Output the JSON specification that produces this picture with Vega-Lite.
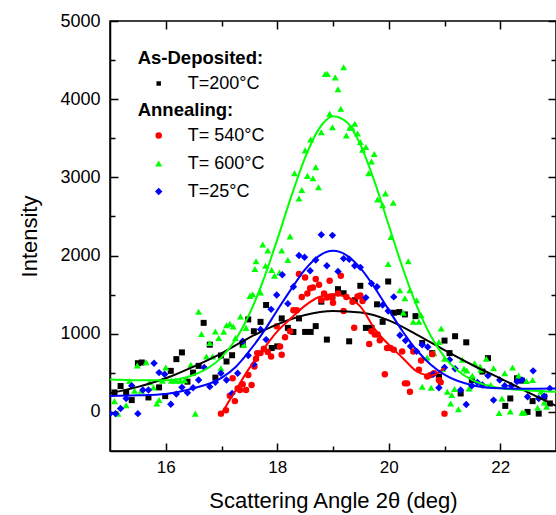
{
"$schema": "https://vega.github.io/schema/vega-lite/v6.json",
"width": 446, "height": 430,
"autosize": {"type": "none"},
"padding": {"left": 110, "top": 21, "right": 0, "bottom": 64},
"background": "white",
"config": {
 "font": "Liberation Sans",
 "view": {"stroke": "black", "strokeWidth": 1.5},
 "axis": {"grid": false, "labelFont": "Liberation Sans", "titleFont": "Liberation Sans", "labelColor": "black", "titleColor": "black", "domainColor": "black", "domainWidth": 1.5, "tickColor": "black", "tickWidth": 1.5, "titleFontWeight": "normal"},
 "legend": {"labelFont": "Liberation Sans", "titleFont": "Liberation Sans", "labelColor": "black", "titleColor": "black"}
},
"datasets": {
"pts": [
{"s":"T=200°C","x":15.08,"y":249},{"s":"T=200°C","x":15.19,"y":331},{"s":"T=200°C","x":15.29,"y":245},{"s":"T=200°C","x":15.39,"y":151},{"s":"T=200°C","x":15.5,"y":623},{"s":"T=200°C","x":15.57,"y":632},{"s":"T=200°C","x":15.69,"y":185},{"s":"T=200°C","x":15.88,"y":314},{"s":"T=200°C","x":15.99,"y":202},{"s":"T=200°C","x":16.09,"y":525},{"s":"T=200°C","x":16.19,"y":675},{"s":"T=200°C","x":16.29,"y":761},{"s":"T=200°C","x":16.39,"y":387},{"s":"T=200°C","x":16.49,"y":503},{"s":"T=200°C","x":16.59,"y":589},{"s":"T=200°C","x":16.68,"y":1139},{"s":"T=200°C","x":16.79,"y":860},{"s":"T=200°C","x":16.89,"y":439},{"s":"T=200°C","x":16.99,"y":722},{"s":"T=200°C","x":17.09,"y":645},{"s":"T=200°C","x":17.19,"y":725},{"s":"T=200°C","x":17.38,"y":860},{"s":"T=200°C","x":17.48,"y":1183},{"s":"T=200°C","x":17.58,"y":1032},{"s":"T=200°C","x":17.7,"y":1152},{"s":"T=200°C","x":17.8,"y":1367},{"s":"T=200°C","x":17.9,"y":817},{"s":"T=200°C","x":18.0,"y":838},{"s":"T=200°C","x":18.08,"y":1196},{"s":"T=200°C","x":18.19,"y":1075},{"s":"T=200°C","x":18.29,"y":1023},{"s":"T=200°C","x":18.39,"y":1196},{"s":"T=200°C","x":18.5,"y":1023},{"s":"T=200°C","x":18.6,"y":1023},{"s":"T=200°C","x":18.69,"y":1097},{"s":"T=200°C","x":18.79,"y":1410},{"s":"T=200°C","x":18.89,"y":925},{"s":"T=200°C","x":18.99,"y":1475},{"s":"T=200°C","x":19.09,"y":1570},{"s":"T=200°C","x":19.19,"y":1518},{"s":"T=200°C","x":19.29,"y":903},{"s":"T=200°C","x":19.39,"y":1428},{"s":"T=200°C","x":19.49,"y":1613},{"s":"T=200°C","x":19.59,"y":1075},{"s":"T=200°C","x":19.69,"y":1075},{"s":"T=200°C","x":19.79,"y":1376},{"s":"T=200°C","x":19.89,"y":1152},{"s":"T=200°C","x":19.99,"y":1668},{"s":"T=200°C","x":20.09,"y":1268},{"s":"T=200°C","x":20.19,"y":1277},{"s":"T=200°C","x":20.29,"y":1247},{"s":"T=200°C","x":20.48,"y":1225},{"s":"T=200°C","x":20.6,"y":881},{"s":"T=200°C","x":20.78,"y":752},{"s":"T=200°C","x":20.9,"y":452},{"s":"T=200°C","x":21.0,"y":912},{"s":"T=200°C","x":21.09,"y":752},{"s":"T=200°C","x":21.19,"y":968},{"s":"T=200°C","x":21.29,"y":236},{"s":"T=200°C","x":21.39,"y":890},{"s":"T=200°C","x":21.49,"y":409},{"s":"T=200°C","x":21.68,"y":516},{"s":"T=200°C","x":21.78,"y":688},{"s":"T=200°C","x":22.09,"y":77},{"s":"T=200°C","x":22.18,"y":172},{"s":"T=200°C","x":22.3,"y":430},{"s":"T=200°C","x":22.39,"y":400},{"s":"T=200°C","x":22.49,"y":0},{"s":"T=200°C","x":22.58,"y":138},{"s":"T=200°C","x":22.69,"y":-22},{"s":"T=200°C","x":22.79,"y":194},{"s":"T=200°C","x":22.89,"y":108},
{"s":"T= 600°C","x":15.08,"y":138},{"s":"T= 600°C","x":15.14,"y":-22},{"s":"T= 600°C","x":15.29,"y":86},{"s":"T= 600°C","x":15.35,"y":396},{"s":"T= 600°C","x":15.44,"y":271},{"s":"T= 600°C","x":15.49,"y":593},{"s":"T= 600°C","x":15.56,"y":271},{"s":"T= 600°C","x":15.65,"y":636},{"s":"T= 600°C","x":15.71,"y":378},{"s":"T= 600°C","x":15.78,"y":314},{"s":"T= 600°C","x":15.84,"y":107},{"s":"T= 600°C","x":15.88,"y":151},{"s":"T= 600°C","x":15.94,"y":400},{"s":"T= 600°C","x":16.0,"y":568},{"s":"T= 600°C","x":16.1,"y":400},{"s":"T= 600°C","x":16.18,"y":400},{"s":"T= 600°C","x":16.26,"y":400},{"s":"T= 600°C","x":16.34,"y":404},{"s":"T= 600°C","x":16.45,"y":602},{"s":"T= 600°C","x":16.53,"y":-22},{"s":"T= 600°C","x":16.59,"y":1281},{"s":"T= 600°C","x":16.64,"y":997},{"s":"T= 600°C","x":16.73,"y":710},{"s":"T= 600°C","x":16.79,"y":881},{"s":"T= 600°C","x":16.84,"y":710},{"s":"T= 600°C","x":16.89,"y":1028},{"s":"T= 600°C","x":16.95,"y":946},{"s":"T= 600°C","x":16.99,"y":559},{"s":"T= 600°C","x":17.04,"y":1024},{"s":"T= 600°C","x":17.09,"y":1109},{"s":"T= 600°C","x":17.15,"y":1126},{"s":"T= 600°C","x":17.21,"y":1092},{"s":"T= 600°C","x":17.25,"y":946},{"s":"T= 600°C","x":17.34,"y":1221},{"s":"T= 600°C","x":17.4,"y":860},{"s":"T= 600°C","x":17.44,"y":1075},{"s":"T= 600°C","x":17.51,"y":1484},{"s":"T= 600°C","x":17.56,"y":1505},{"s":"T= 600°C","x":17.6,"y":1828},{"s":"T= 600°C","x":17.62,"y":1926},{"s":"T= 600°C","x":17.7,"y":1526},{"s":"T= 600°C","x":17.74,"y":2141},{"s":"T= 600°C","x":17.79,"y":1870},{"s":"T= 600°C","x":17.83,"y":2064},{"s":"T= 600°C","x":17.9,"y":1815},{"s":"T= 600°C","x":17.95,"y":1741},{"s":"T= 600°C","x":18.04,"y":1784},{"s":"T= 600°C","x":18.08,"y":2064},{"s":"T= 600°C","x":18.19,"y":1944},{"s":"T= 600°C","x":18.23,"y":2245},{"s":"T= 600°C","x":18.31,"y":3053},{"s":"T= 600°C","x":18.39,"y":2731},{"s":"T= 600°C","x":18.44,"y":2838},{"s":"T= 600°C","x":18.5,"y":3345},{"s":"T= 600°C","x":18.54,"y":3019},{"s":"T= 600°C","x":18.6,"y":3483},{"s":"T= 600°C","x":18.64,"y":2989},{"s":"T= 600°C","x":18.69,"y":3131},{"s":"T= 600°C","x":18.74,"y":2873},{"s":"T= 600°C","x":18.79,"y":3577},{"s":"T= 600°C","x":18.86,"y":4322},{"s":"T= 600°C","x":18.9,"y":4322},{"s":"T= 600°C","x":18.94,"y":3814},{"s":"T= 600°C","x":18.99,"y":3642},{"s":"T= 600°C","x":19.04,"y":4279},{"s":"T= 600°C","x":19.09,"y":4128},{"s":"T= 600°C","x":19.14,"y":3879},{"s":"T= 600°C","x":19.19,"y":4408},{"s":"T= 600°C","x":19.24,"y":3535},{"s":"T= 600°C","x":19.3,"y":3634},{"s":"T= 600°C","x":19.34,"y":3634},{"s":"T= 600°C","x":19.39,"y":3685},{"s":"T= 600°C","x":19.44,"y":3560},{"s":"T= 600°C","x":19.49,"y":3453},{"s":"T= 600°C","x":19.53,"y":3354},{"s":"T= 600°C","x":19.59,"y":3389},{"s":"T= 600°C","x":19.64,"y":3053},{"s":"T= 600°C","x":19.69,"y":3203},{"s":"T= 600°C","x":19.74,"y":3300},{"s":"T= 600°C","x":19.8,"y":2718},{"s":"T= 600°C","x":19.89,"y":2645},{"s":"T= 600°C","x":19.94,"y":2795},{"s":"T= 600°C","x":19.99,"y":1892},{"s":"T= 600°C","x":20.04,"y":2236},{"s":"T= 600°C","x":20.08,"y":2674},{"s":"T= 600°C","x":20.2,"y":1557},{"s":"T= 600°C","x":20.26,"y":1268},{"s":"T= 600°C","x":20.29,"y":1453},{"s":"T= 600°C","x":20.35,"y":1926},{"s":"T= 600°C","x":20.38,"y":1557},{"s":"T= 600°C","x":20.44,"y":1152},{"s":"T= 600°C","x":20.5,"y":1428},{"s":"T= 600°C","x":20.54,"y":1152},{"s":"T= 600°C","x":20.58,"y":1238},{"s":"T= 600°C","x":20.6,"y":323},{"s":"T= 600°C","x":20.69,"y":697},{"s":"T= 600°C","x":20.76,"y":310},{"s":"T= 600°C","x":20.81,"y":752},{"s":"T= 600°C","x":20.9,"y":894},{"s":"T= 600°C","x":20.94,"y":1067},{"s":"T= 600°C","x":20.97,"y":551},{"s":"T= 600°C","x":21.0,"y":680},{"s":"T= 600°C","x":21.05,"y":258},{"s":"T= 600°C","x":21.11,"y":107},{"s":"T= 600°C","x":21.13,"y":215},{"s":"T= 600°C","x":21.18,"y":293},{"s":"T= 600°C","x":21.25,"y":35},{"s":"T= 600°C","x":21.32,"y":667},{"s":"T= 600°C","x":21.35,"y":551},{"s":"T= 600°C","x":21.4,"y":529},{"s":"T= 600°C","x":21.44,"y":301},{"s":"T= 600°C","x":21.5,"y":464},{"s":"T= 600°C","x":21.54,"y":623},{"s":"T= 600°C","x":21.64,"y":580},{"s":"T= 600°C","x":21.65,"y":538},{"s":"T= 600°C","x":21.75,"y":680},{"s":"T= 600°C","x":21.83,"y":344},{"s":"T= 600°C","x":21.88,"y":559},{"s":"T= 600°C","x":21.98,"y":-13},{"s":"T= 600°C","x":22.03,"y":172},{"s":"T= 600°C","x":22.08,"y":494},{"s":"T= 600°C","x":22.18,"y":4},{"s":"T= 600°C","x":22.22,"y":568},{"s":"T= 600°C","x":22.33,"y":464},{"s":"T= 600°C","x":22.39,"y":-9},{"s":"T= 600°C","x":22.43,"y":-9},{"s":"T= 600°C","x":22.47,"y":396},{"s":"T= 600°C","x":22.58,"y":409},{"s":"T= 600°C","x":22.67,"y":52},{"s":"T= 600°C","x":22.73,"y":258},{"s":"T= 600°C","x":22.79,"y":120},{"s":"T= 600°C","x":22.83,"y":65},
{"s":"T= 540°C","x":16.99,"y":-22},{"s":"T= 540°C","x":17.08,"y":22},{"s":"T= 540°C","x":17.15,"y":206},{"s":"T= 540°C","x":17.2,"y":430},{"s":"T= 540°C","x":17.24,"y":138},{"s":"T= 540°C","x":17.29,"y":301},{"s":"T= 540°C","x":17.33,"y":280},{"s":"T= 540°C","x":17.38,"y":353},{"s":"T= 540°C","x":17.44,"y":280},{"s":"T= 540°C","x":17.48,"y":473},{"s":"T= 540°C","x":17.54,"y":344},{"s":"T= 540°C","x":17.59,"y":580},{"s":"T= 540°C","x":17.62,"y":680},{"s":"T= 540°C","x":17.64,"y":752},{"s":"T= 540°C","x":17.7,"y":752},{"s":"T= 540°C","x":17.76,"y":808},{"s":"T= 540°C","x":17.83,"y":765},{"s":"T= 540°C","x":17.89,"y":710},{"s":"T= 540°C","x":17.99,"y":1097},{"s":"T= 540°C","x":18.05,"y":838},{"s":"T= 540°C","x":18.08,"y":731},{"s":"T= 540°C","x":18.14,"y":955},{"s":"T= 540°C","x":18.23,"y":1032},{"s":"T= 540°C","x":18.29,"y":1299},{"s":"T= 540°C","x":18.35,"y":1299},{"s":"T= 540°C","x":18.39,"y":1763},{"s":"T= 540°C","x":18.44,"y":1471},{"s":"T= 540°C","x":18.5,"y":1720},{"s":"T= 540°C","x":18.54,"y":1514},{"s":"T= 540°C","x":18.59,"y":1582},{"s":"T= 540°C","x":18.64,"y":1591},{"s":"T= 540°C","x":18.69,"y":1699},{"s":"T= 540°C","x":18.75,"y":1625},{"s":"T= 540°C","x":18.79,"y":1428},{"s":"T= 540°C","x":18.84,"y":1514},{"s":"T= 540°C","x":18.89,"y":1462},{"s":"T= 540°C","x":18.94,"y":1677},{"s":"T= 540°C","x":18.98,"y":1462},{"s":"T= 540°C","x":19.0,"y":1397},{"s":"T= 540°C","x":19.09,"y":1514},{"s":"T= 540°C","x":19.14,"y":1741},{"s":"T= 540°C","x":19.19,"y":1290},{"s":"T= 540°C","x":19.24,"y":1471},{"s":"T= 540°C","x":19.35,"y":1410},{"s":"T= 540°C","x":19.38,"y":1075},{"s":"T= 540°C","x":19.44,"y":1475},{"s":"T= 540°C","x":19.49,"y":1488},{"s":"T= 540°C","x":19.53,"y":1419},{"s":"T= 540°C","x":19.65,"y":868},{"s":"T= 540°C","x":19.69,"y":1032},{"s":"T= 540°C","x":19.75,"y":989},{"s":"T= 540°C","x":19.8,"y":989},{"s":"T= 540°C","x":19.84,"y":916},{"s":"T= 540°C","x":19.93,"y":481},{"s":"T= 540°C","x":19.97,"y":817},{"s":"T= 540°C","x":20.03,"y":817},{"s":"T= 540°C","x":20.09,"y":795},{"s":"T= 540°C","x":20.24,"y":774},{"s":"T= 540°C","x":20.29,"y":365},{"s":"T= 540°C","x":20.33,"y":365},{"s":"T= 540°C","x":20.38,"y":258},{"s":"T= 540°C","x":20.44,"y":774},{"s":"T= 540°C","x":20.54,"y":538},{"s":"T= 540°C","x":20.58,"y":658},{"s":"T= 540°C","x":20.69,"y":452},{"s":"T= 540°C","x":20.75,"y":473},{"s":"T= 540°C","x":20.78,"y":739},{"s":"T= 540°C","x":20.81,"y":495},{"s":"T= 540°C","x":20.9,"y":409},{"s":"T= 540°C","x":20.93,"y":378},{"s":"T= 540°C","x":21.0,"y":-22},
{"s":"T=25°C","x":15.0,"y":-22},{"s":"T=25°C","x":15.1,"y":-22},{"s":"T=25°C","x":15.19,"y":43},{"s":"T=25°C","x":15.29,"y":172},{"s":"T=25°C","x":15.39,"y":335},{"s":"T=25°C","x":15.5,"y":-22},{"s":"T=25°C","x":15.59,"y":280},{"s":"T=25°C","x":15.69,"y":280},{"s":"T=25°C","x":15.79,"y":623},{"s":"T=25°C","x":15.88,"y":503},{"s":"T=25°C","x":15.98,"y":482},{"s":"T=25°C","x":16.09,"y":99},{"s":"T=25°C","x":16.19,"y":228},{"s":"T=25°C","x":16.29,"y":314},{"s":"T=25°C","x":16.39,"y":245},{"s":"T=25°C","x":16.49,"y":310},{"s":"T=25°C","x":16.59,"y":409},{"s":"T=25°C","x":16.69,"y":568},{"s":"T=25°C","x":16.79,"y":323},{"s":"T=25°C","x":16.89,"y":378},{"s":"T=25°C","x":16.99,"y":494},{"s":"T=25°C","x":17.09,"y":409},{"s":"T=25°C","x":17.19,"y":236},{"s":"T=25°C","x":17.29,"y":494},{"s":"T=25°C","x":17.38,"y":903},{"s":"T=25°C","x":17.48,"y":722},{"s":"T=25°C","x":17.58,"y":610},{"s":"T=25°C","x":17.7,"y":1054},{"s":"T=25°C","x":17.8,"y":925},{"s":"T=25°C","x":17.89,"y":1312},{"s":"T=25°C","x":17.99,"y":1496},{"s":"T=25°C","x":18.09,"y":1754},{"s":"T=25°C","x":18.19,"y":1385},{"s":"T=25°C","x":18.29,"y":1600},{"s":"T=25°C","x":18.39,"y":2000},{"s":"T=25°C","x":18.49,"y":1978},{"s":"T=25°C","x":18.59,"y":1806},{"s":"T=25°C","x":18.69,"y":1944},{"s":"T=25°C","x":18.79,"y":2266},{"s":"T=25°C","x":18.89,"y":1870},{"s":"T=25°C","x":18.99,"y":2258},{"s":"T=25°C","x":19.09,"y":1797},{"s":"T=25°C","x":19.19,"y":1961},{"s":"T=25°C","x":19.29,"y":1952},{"s":"T=25°C","x":19.39,"y":1870},{"s":"T=25°C","x":19.49,"y":1849},{"s":"T=25°C","x":19.59,"y":1462},{"s":"T=25°C","x":19.69,"y":1642},{"s":"T=25°C","x":19.79,"y":1600},{"s":"T=25°C","x":19.89,"y":1367},{"s":"T=25°C","x":19.99,"y":1290},{"s":"T=25°C","x":20.09,"y":1471},{"s":"T=25°C","x":20.2,"y":980},{"s":"T=25°C","x":20.3,"y":912},{"s":"T=25°C","x":20.39,"y":839},{"s":"T=25°C","x":20.5,"y":774},{"s":"T=25°C","x":20.6,"y":860},{"s":"T=25°C","x":20.7,"y":830},{"s":"T=25°C","x":20.8,"y":481},{"s":"T=25°C","x":20.9,"y":310},{"s":"T=25°C","x":21.0,"y":568},{"s":"T=25°C","x":21.09,"y":667},{"s":"T=25°C","x":21.19,"y":551},{"s":"T=25°C","x":21.29,"y":280},{"s":"T=25°C","x":21.39,"y":95},{"s":"T=25°C","x":21.49,"y":335},{"s":"T=25°C","x":21.59,"y":378},{"s":"T=25°C","x":21.68,"y":344},{"s":"T=25°C","x":21.78,"y":464},{"s":"T=25°C","x":21.88,"y":151},{"s":"T=25°C","x":21.99,"y":409},{"s":"T=25°C","x":22.08,"y":335},{"s":"T=25°C","x":22.2,"y":335},{"s":"T=25°C","x":22.3,"y":387},{"s":"T=25°C","x":22.39,"y":409},{"s":"T=25°C","x":22.49,"y":194},{"s":"T=25°C","x":22.59,"y":525},{"s":"T=25°C","x":22.69,"y":172},{"s":"T=25°C","x":22.79,"y":200},{"s":"T=25°C","x":22.89,"y":301}
],
"fits": [
{"s":"T=200°C","x":15,"y":237},{"s":"T=200°C","x":15.5,"y":320},{"s":"T=200°C","x":16,"y":430},{"s":"T=200°C","x":16.5,"y":580},{"s":"T=200°C","x":17,"y":750},{"s":"T=200°C","x":17.5,"y":950},{"s":"T=200°C","x":18,"y":1120},{"s":"T=200°C","x":18.5,"y":1240},{"s":"T=200°C","x":19,"y":1290},{"s":"T=200°C","x":19.5,"y":1270},{"s":"T=200°C","x":20,"y":1170},{"s":"T=200°C","x":20.5,"y":990},{"s":"T=200°C","x":21,"y":790},{"s":"T=200°C","x":21.5,"y":600},{"s":"T=200°C","x":22,"y":430},{"s":"T=200°C","x":22.5,"y":250},{"s":"T=200°C","x":23,"y":77},
{"s":"T= 600°C","x":15,"y":413},{"s":"T= 600°C","x":15.5,"y":404},{"s":"T= 600°C","x":16,"y":404},{"s":"T= 600°C","x":16.5,"y":472},{"s":"T= 600°C","x":17,"y":697},{"s":"T= 600°C","x":17.25,"y":922},{"s":"T= 600°C","x":17.5,"y":1252},{"s":"T= 600°C","x":17.75,"y":1686},{"s":"T= 600°C","x":18,"y":2204},{"s":"T= 600°C","x":18.25,"y":2753},{"s":"T= 600°C","x":18.5,"y":3254},{"s":"T= 600°C","x":18.75,"y":3623},{"s":"T= 600°C","x":19,"y":3783},{"s":"T= 600°C","x":19.25,"y":3704},{"s":"T= 600°C","x":19.5,"y":3403},{"s":"T= 600°C","x":19.75,"y":2936},{"s":"T= 600°C","x":20,"y":2388},{"s":"T= 600°C","x":20.25,"y":1841},{"s":"T= 600°C","x":20.5,"y":1360},{"s":"T= 600°C","x":20.75,"y":978},{"s":"T= 600°C","x":21,"y":702},{"s":"T= 600°C","x":21.25,"y":519},{"s":"T= 600°C","x":21.5,"y":406},{"s":"T= 600°C","x":22,"y":305},{"s":"T= 600°C","x":22.5,"y":274},{"s":"T= 600°C","x":23,"y":258},
{"s":"T= 540°C","x":17,"y":-20},{"s":"T= 540°C","x":17.25,"y":270},{"s":"T= 540°C","x":17.5,"y":560},{"s":"T= 540°C","x":17.75,"y":800},{"s":"T= 540°C","x":18,"y":1030},{"s":"T= 540°C","x":18.25,"y":1200},{"s":"T= 540°C","x":18.5,"y":1360},{"s":"T= 540°C","x":18.75,"y":1470},{"s":"T= 540°C","x":19,"y":1505},{"s":"T= 540°C","x":19.25,"y":1470},{"s":"T= 540°C","x":19.5,"y":1340},{"s":"T= 540°C","x":19.75,"y":1060},{"s":"T= 540°C","x":20,"y":860},{"s":"T= 540°C","x":20.25,"y":690},{"s":"T= 540°C","x":20.5,"y":520},{"s":"T= 540°C","x":20.75,"y":465},{"s":"T= 540°C","x":21,"y":560},
{"s":"T=25°C","x":15,"y":205},{"s":"T=25°C","x":15.5,"y":212},{"s":"T=25°C","x":16,"y":230},{"s":"T=25°C","x":16.5,"y":302},{"s":"T=25°C","x":17,"y":436},{"s":"T=25°C","x":17.25,"y":572},{"s":"T=25°C","x":17.5,"y":780},{"s":"T=25°C","x":17.75,"y":1020},{"s":"T=25°C","x":18,"y":1300},{"s":"T=25°C","x":18.25,"y":1570},{"s":"T=25°C","x":18.5,"y":1822},{"s":"T=25°C","x":18.75,"y":1996},{"s":"T=25°C","x":19,"y":2060},{"s":"T=25°C","x":19.25,"y":2000},{"s":"T=25°C","x":19.5,"y":1832},{"s":"T=25°C","x":19.75,"y":1585},{"s":"T=25°C","x":20,"y":1305},{"s":"T=25°C","x":20.25,"y":1029},{"s":"T=25°C","x":20.5,"y":792},{"s":"T=25°C","x":20.75,"y":607},{"s":"T=25°C","x":21,"y":476},{"s":"T=25°C","x":21.5,"y":342},{"s":"T=25°C","x":22,"y":302},{"s":"T=25°C","x":22.5,"y":297},{"s":"T=25°C","x":23,"y":300}
]
},
"layer": [
{
 "data": {"name": "pts"},
 "transform": [{"filter": "datum.s == 'T=200°C'"}],
 "mark": {"type": "point", "filled": true, "opacity": 1, "size": 36, "clip": true},
 "encoding": {
  "x": {"field": "x", "type": "quantitative", "scale": {"domain": [15, 23], "nice": false, "zero": false},
   "axis": {"orient": "bottom", "values": [16, 18, 20, 22], "ticks": false, "domain": true, "labelFontSize": 17, "labelPadding": 8, "title": "Scattering Angle 2θ (deg)", "titleFontSize": 22, "titlePadding": 15}},
  "y": {"field": "y", "type": "quantitative", "scale": {"domain": [-500, 5000], "nice": false, "zero": false},
   "axis": {"orient": "left", "values": [0, 1000, 2000, 3000, 4000, 5000], "format": "d", "ticks": false, "domain": true, "labelFontSize": 18, "labelPadding": 10, "title": "Intensity", "titleFontSize": 22, "titlePadding": 18}},
  "color": {"field": "s", "type": "nominal", "scale": {"domain": ["T=200°C"], "range": ["#000000"]},
   "legend": {"title": "As-Deposited:", "orient": "none", "legendX": 27.7, "legendY": 28, "padding": 0, "titleFontSize": 18.5, "titleFontWeight": "bold", "labelFontSize": 18, "symbolSize": 20, "symbolOffset": 12, "labelOffset": 20, "rowPadding": 10, "titlePadding": 7, "symbolStrokeWidth": 0}},
  "shape": {"field": "s", "type": "nominal", "scale": {"domain": ["T=200°C"], "range": ["square"]},
   "legend": {"title": "As-Deposited:", "orient": "none", "legendX": 27.7, "legendY": 28, "padding": 0, "titleFontSize": 18.5, "titleFontWeight": "bold", "labelFontSize": 18, "symbolSize": 20, "symbolOffset": 12, "labelOffset": 20, "rowPadding": 10, "titlePadding": 7, "symbolStrokeWidth": 0}}
 }
},
{
 "data": {"name": "pts"},
 "transform": [{"filter": "datum.s != 'T=200°C'"}],
 "mark": {"type": "point", "filled": true, "opacity": 1, "clip": true},
 "encoding": {
  "x": {"field": "x", "type": "quantitative", "scale": {"domain": [15, 23], "nice": false, "zero": false},
   "axis": {"orient": "bottom", "offset": -8, "values": [16, 18, 20, 22], "labels": false, "domain": false, "title": null, "tickSize": 8}},
  "y": {"field": "y", "type": "quantitative", "scale": {"domain": [-500, 5000], "nice": false, "zero": false},
   "axis": {"orient": "left", "offset": -8, "values": [0, 1000, 2000, 3000, 4000, 5000], "labels": false, "domain": false, "title": null, "tickSize": 8}},
  "color": {"field": "s", "type": "nominal", "scale": {"domain": ["T= 540°C", "T= 600°C", "T=25°C"], "range": ["#ff0000", "#00ff00", "#0000ff"]},
   "legend": {"title": "Annealing:", "orient": "none", "legendX": 27.7, "legendY": 80, "padding": 0, "titleFontSize": 18.5, "titleFontWeight": "bold", "labelFontSize": 18, "symbolSize": 26, "symbolOffset": 12, "labelOffset": 20, "rowPadding": 10, "titlePadding": 7, "symbolStrokeWidth": 0}},
  "shape": {"field": "s", "type": "nominal", "scale": {"domain": ["T= 540°C", "T= 600°C", "T=25°C"], "range": ["circle", "triangle-up", "diamond"]},
   "legend": {"title": "Annealing:", "orient": "none", "legendX": 27.7, "legendY": 80, "padding": 0, "titleFontSize": 18.5, "titleFontWeight": "bold", "labelFontSize": 18, "symbolSize": 26, "symbolOffset": 12, "labelOffset": 20, "rowPadding": 10, "titlePadding": 7, "symbolStrokeWidth": 0}},
  "size": {"field": "s", "type": "nominal", "scale": {"domain": ["T= 540°C", "T= 600°C", "T=25°C"], "range": [42, 55, 60]}, "legend": null}
 }
},
{
 "data": {"name": "fits"},
 "transform": [{"filter": "datum.s == 'T=200°C'"}],
 "mark": {"type": "line", "strokeWidth": 2, "clip": true, "interpolate": "monotone", "color": "#000000"},
 "encoding": {
  "x": {"field": "x", "type": "quantitative", "scale": {"domain": [15, 23], "nice": false, "zero": false},
   "axis": {"orient": "bottom", "offset": -5, "values": [17, 19, 21], "labels": false, "domain": false, "title": null, "tickSize": 5}},
  "y": {"field": "y", "type": "quantitative", "scale": {"domain": [-500, 5000], "nice": false, "zero": false},
   "axis": {"orient": "left", "offset": -5, "values": [500, 1500, 2500, 3500, 4500], "labels": false, "domain": false, "title": null, "tickSize": 5}}
 }
},
{
 "data": {"name": "fits"},
 "transform": [{"filter": "datum.s != 'T=200°C'"}],
 "mark": {"type": "line", "strokeWidth": 2, "clip": true, "interpolate": "monotone"},
 "encoding": {
  "x": {"field": "x", "type": "quantitative", "scale": {"domain": [15, 23], "nice": false, "zero": false},
   "axis": {"orient": "top", "offset": -8, "values": [16, 18, 20, 22], "labels": false, "domain": false, "title": null, "tickSize": 8}},
  "y": {"field": "y", "type": "quantitative", "scale": {"domain": [-500, 5000], "nice": false, "zero": false},
   "axis": {"orient": "right", "offset": -8, "values": [0, 1000, 2000, 3000, 4000, 5000], "labels": false, "domain": false, "title": null, "tickSize": 8}},
  "color": {"field": "s", "type": "nominal", "scale": {"domain": ["T= 540°C", "T= 600°C", "T=25°C"], "range": ["#ff0000", "#00ff00", "#0000ff"]}, "legend": null}
 }
},
{
 "mark": {"type": "text", "align": "left", "baseline": "alphabetic", "fontSize": 18, "color": "black", "font": "Liberation Sans"},
 "encoding": {
  "x": {"datum": 15.49, "type": "quantitative", "scale": {"domain": [15, 23], "nice": false, "zero": false},
   "axis": {"orient": "top", "offset": -5, "values": [17, 19, 21], "labels": false, "domain": false, "title": null, "tickSize": 5}},
  "y": {"datum": 2490, "type": "quantitative", "scale": {"domain": [-500, 5000], "nice": false, "zero": false},
   "axis": {"orient": "right", "offset": -5, "values": [500, 1500, 2500, 3500, 4500], "labels": false, "domain": false, "title": null, "tickSize": 5}},
  "text": {"value": "Lines: Fits"}
 }
}
],
"resolve": {"axis": {"x": "independent", "y": "independent"}, "scale": {"color": "independent", "shape": "independent", "size": "independent"}}
}
